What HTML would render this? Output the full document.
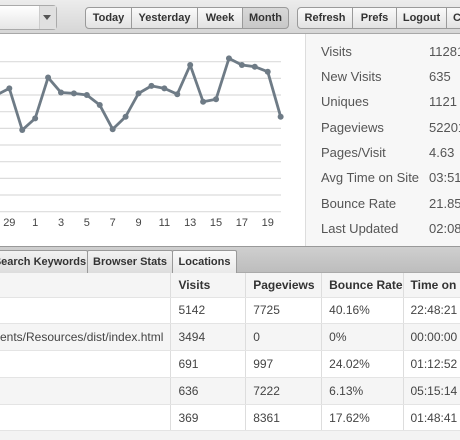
<!DOCTYPE html>
<html><head><meta charset="utf-8"><style>
*{margin:0;padding:0;box-sizing:border-box}
body{width:460px;height:440px;overflow:hidden;background:#f3f3f3;font-family:"Liberation Sans",sans-serif;position:relative}
.abs{position:absolute}
#toolbar{left:0;top:0;width:460px;height:34px;background:linear-gradient(#ececec,#d6d6d6);border-bottom:1px solid #a8a8a8}
.btn{position:absolute;top:7px;height:22px;border:1px solid #9a9a9a;background:linear-gradient(#fafafa,#e2e2e2);font-size:11px;font-weight:bold;color:#333;line-height:20px;text-align:center}
.btn.sel{background:linear-gradient(#d8d8d8,#c8c8c8)}
#dropdown{left:-6px;top:5px;width:63px;height:25px;border:1px solid #aaa;border-radius:4px;background:linear-gradient(#fff,#e6e6e6)}
#chartbg{left:0;top:34px;width:305px;height:212px;background:#fff}
#stats{left:305px;top:34px;width:155px;height:212px;background:#f7f7f7;border-left:1px solid #ddd}
.sl{position:absolute;left:15px;font-size:13px;color:#555}
.sv{position:absolute;left:123px;font-size:13px;color:#555}
#tabbar{left:0;top:246px;width:460px;height:27px;background:linear-gradient(#cfcfcf,#bdbdbd);border-top:1px solid #999;border-bottom:1px solid #aaa}
.tab{position:absolute;top:3px;height:24px;border:1px solid #999;border-bottom:none;background:linear-gradient(#f2f2f2,#dcdcdc);font-size:11px;font-weight:bold;color:#333;line-height:22px;text-align:center;border-radius:2px 2px 0 0}
table{position:absolute;left:0;top:273px;border-collapse:collapse;width:470px}
td{height:26.8px;font-size:12px;color:#444;padding-left:7px;border-bottom:1px solid #e4e4e4;border-left:1px solid #ddd;white-space:nowrap;overflow:hidden}
tr.h td{font-weight:bold;font-size:12px;color:#333;height:24px}
tr:nth-child(even) td{background:#fff}
tr:nth-child(odd) td{background:#f5f5f5}
</style></head><body>
<div id="toolbar" class="abs">
 <div id="dropdown" class="abs"><div class="abs" style="right:0;top:0;width:17px;height:23px;background:#e0e0e0;border-left:1px solid #ccc"></div><div class="abs" style="right:5px;top:9px;width:0;height:0;border-left:4px solid transparent;border-right:4px solid transparent;border-top:5px solid #555"></div></div>
 <div class="btn" style="left:85px;width:47px;border-radius:4px 0 0 4px">Today</div>
 <div class="btn" style="left:131px;width:67px">Yesterday</div>
 <div class="btn" style="left:197px;width:46px">Week</div>
 <div class="btn sel" style="left:242px;width:47px;border-radius:0 4px 4px 0">Month</div>
 <div class="btn" style="left:297px;width:56px;border-radius:4px 0 0 4px">Refresh</div>
 <div class="btn" style="left:352px;width:45px">Prefs</div>
 <div class="btn" style="left:396px;width:51px">Logout</div>
 <div class="btn" style="left:446px;width:30px;text-align:left;padding-left:6px">C</div>
</div>
<div id="chartbg" class="abs"></div>
<svg class="abs" id="chart" style="left:0;top:34px" width="305" height="212" viewBox="0 34 305 212"></svg>
<div id="stats" class="abs">
 <div class="sl" style="top:10px">Visits</div><div class="sv" style="top:10px">11281</div>
 <div class="sl" style="top:35px">New Visits</div><div class="sv" style="top:35px">635</div>
 <div class="sl" style="top:60px">Uniques</div><div class="sv" style="top:60px">1121</div>
 <div class="sl" style="top:86px">Pageviews</div><div class="sv" style="top:86px">52201</div>
 <div class="sl" style="top:111px">Pages/Visit</div><div class="sv" style="top:111px">4.63</div>
 <div class="sl" style="top:136px">Avg Time on Site</div><div class="sv" style="top:136px">03:51:</div>
 <div class="sl" style="top:162px">Bounce Rate</div><div class="sv" style="top:162px">21.85%</div>
 <div class="sl" style="top:187px">Last Updated</div><div class="sv" style="top:187px">02:08</div>
</div>
<div id="tabbar" class="abs">
 <div class="tab" style="left:-8px;width:96px">Search Keywords</div>
 <div class="tab" style="left:87px;width:86px">Browser Stats</div>
 <div class="tab" style="left:172px;width:65px;background:linear-gradient(#fafafa,#e8e8e8)">Locations</div>
</div>
<table>
<colgroup><col style="width:171px"><col style="width:75px"><col style="width:76px"><col style="width:81px"><col style="width:67px"></colgroup>
<tr class="h"><td style="border-left:none"></td><td>Visits</td><td>Pageviews</td><td>Bounce Rate</td><td>Time on P</td></tr>
<tr><td style="border-left:none"></td><td>5142</td><td>7725</td><td>40.16%</td><td>22:48:21</td></tr>
<tr><td style="border-left:none;padding-left:0">ents/Resources/dist/index.html</td><td>3494</td><td>0</td><td>0%</td><td>00:00:00</td></tr>
<tr><td style="border-left:none"></td><td>691</td><td>997</td><td>24.02%</td><td>01:12:52</td></tr>
<tr><td style="border-left:none"></td><td>636</td><td>7222</td><td>6.13%</td><td>05:15:14</td></tr>
<tr><td style="border-left:none"></td><td>369</td><td>8361</td><td>17.62%</td><td>01:48:41</td></tr>
</table>
<script>
const categories=["28","29","30","1","2","3","4","5","6","7","8","9","10","11","12","13","14","15","16","17","18","19","20"];
const values=[7.0,7.4,4.9,5.6,8.05,7.15,7.1,7.0,6.4,4.95,5.7,7.1,7.55,7.4,7.05,8.8,6.6,6.75,9.2,8.8,8.7,8.4,5.7];
const gridValues=[0,1,2,3,4,5,6,7,8,9];
const tickLabels=["29","1","3","5","7","9","11","13","15","17","19"];
const NS="http://www.w3.org/2000/svg";
const svg=document.getElementById('chart');
const x0=-3.6,dx=12.92;
function xScale(i){return x0+i*dx;}
function yScale(v){return 211.7-v*16.667;}
gridValues.forEach(g=>{const l=document.createElementNS(NS,'line');


l.setAttribute('x1',0);l.setAttribute('x2',281);l.setAttribute('y1',yScale(g));l.setAttribute('y2',yScale(g));l.setAttribute('stroke','#dcdcdc');l.setAttribute('stroke-width','1.2');svg.appendChild(l);});
tickLabels.forEach(t=>{const i=categories.indexOf(t);const tx=document.createElementNS(NS,'text');


tx.setAttribute('x',xScale(i));tx.setAttribute('y',226);tx.setAttribute('text-anchor','middle');tx.setAttribute('font-size','11');tx.setAttribute('fill','#444');tx.setAttribute('font-family','Liberation Sans, sans-serif');tx.textContent=t;svg.appendChild(tx);});
const pts=values.map((v,i)=>xScale(i)+','+yScale(v)).join(' ');
const pl=document.createElementNS(NS,'polyline');


pl.setAttribute('points',pts);pl.setAttribute('fill','none');pl.setAttribute('stroke','#6e7b86');pl.setAttribute('stroke-width','2.8');pl.setAttribute('stroke-linejoin','round');svg.appendChild(pl);
values.forEach((v,i)=>{const c=document.createElementNS(NS,'circle');


c.setAttribute('cx',xScale(i));c.setAttribute('cy',yScale(v));c.setAttribute('r','3');c.setAttribute('fill','#6e7b86');svg.appendChild(c);});
</script>
</body></html>
